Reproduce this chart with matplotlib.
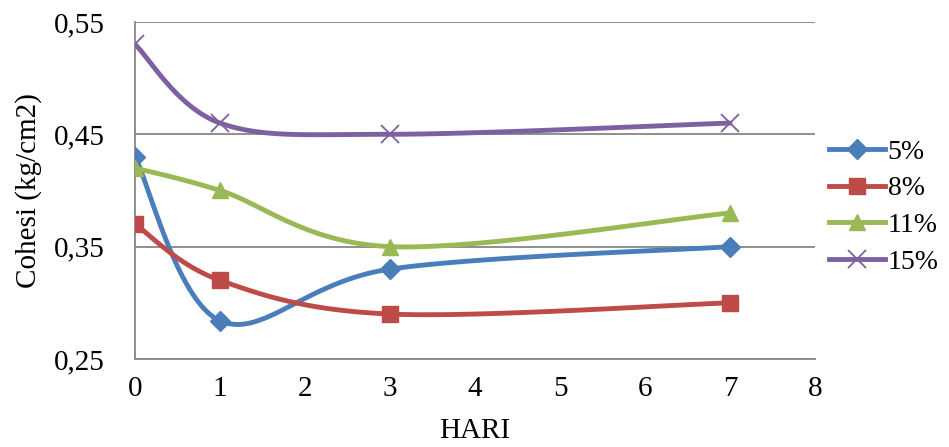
import numpy as np
import matplotlib
matplotlib.use("Agg")
import matplotlib.pyplot as plt
from matplotlib.lines import Line2D

hari = [0, 1, 3, 7]
series_names = ["5%", "8%", "11%", "15%"]
s5 = [0.43, 0.284, 0.33, 0.35]
s8 = [0.37, 0.32, 0.29, 0.30]
s11 = [0.42, 0.40, 0.35, 0.38]
s15 = [0.53, 0.46, 0.45, 0.46]
y_ticks = [0.25, 0.35, 0.45, 0.55]
y_tick_labels = ["0,25", "0,35", "0,45", "0,55"]
x_ticks = [0, 1, 2, 3, 4, 5, 6, 7, 8]

colors = ["#4A7EBB", "#BE4B48", "#98B954", "#7D60A0"]
markers = ["D", "s", "^", "x"]
msizes = [10, 12, 12, 13]

plt.rcParams['font.family'] = ['Liberation Serif', 'DejaVu Serif']

def smooth(xs, ys, n=40):
    """Excel-like Bezier smoothing (Catmull-Rom control points)."""
    xs = np.asarray(xs, float); ys = np.asarray(ys, float)
    P = np.column_stack([xs, ys])
    out = [P[0]]
    for i in range(len(P) - 1):
        p0 = P[i - 1] if i > 0 else P[i]
        p1 = P[i]; p2 = P[i + 1]
        p3 = P[i + 2] if i + 2 < len(P) else P[i + 1]
        c1 = p1 + (p2 - p0) / 6.0
        c2 = p2 - (p3 - p1) / 6.0
        t = np.linspace(0, 1, n)[1:, None]
        b = ((1 - t) ** 3) * p1 + 3 * ((1 - t) ** 2) * t * c1 + 3 * (1 - t) * t ** 2 * c2 + t ** 3 * p2
        out.extend(b)
    out = np.array(out)
    return out[:, 0], out[:, 1]

fig = plt.figure(figsize=(9.49, 4.47), dpi=100)
ax = fig.add_axes([0.1423, 0.1969, 0.7165, 0.754])

data = [s5, s8, s11, s15]
handles = []
for name, ys, c, m, ms in zip(series_names, data, colors, markers, msizes):
    sx, sy = smooth(hari, ys)
    ax.plot(sx, sy, color=c, lw=3.5, solid_capstyle='round', zorder=3)
    if m == "x":
        ax.plot(hari, ys, linestyle='none', marker=m, ms=ms, mew=1.3, color=c, zorder=4)
    else:
        ax.plot(hari, ys, linestyle='none', marker=m, ms=ms, color=c, mec=c, zorder=4)
    handles.append(Line2D([], [], color=c, lw=3.5, marker=m, ms=ms,
                          mew=1.3 if m == "x" else 1, mec=c))

ax.set_xlim(0, 8)
ax.set_ylim(0.25, 0.55)
ax.set_yticks(y_ticks)
ax.set_yticklabels(y_tick_labels)
ax.set_xticks(x_ticks)
ax.grid(axis='y', color='#868686', lw=1.3, zorder=0)
ax.set_axisbelow(True)
for s in ['top', 'right']:
    ax.spines[s].set_visible(False)
ax.spines['left'].set_color('#868686')
ax.spines['bottom'].set_color('#868686')
ax.spines['left'].set_linewidth(1.3)
ax.spines['bottom'].set_linewidth(1.3)
ax.tick_params(axis='both', length=0, labelsize=21, colors='black')
ax.tick_params(axis='y', pad=22)
ax.tick_params(axis='x', pad=12)
ax.set_xlabel("HARI", fontsize=21, labelpad=12)
ax.set_ylabel("Cohesi (kg/cm2)", fontsize=21, labelpad=8)

leg = fig.legend(handles, series_names, loc='upper left', bbox_to_anchor=(0.874, 0.688),
                 frameon=False, fontsize=20, handlelength=2.0, handletextpad=0.1,
                 labelspacing=0.4, borderaxespad=0, borderpad=0)

fig.savefig("out.png", dpi=100)
